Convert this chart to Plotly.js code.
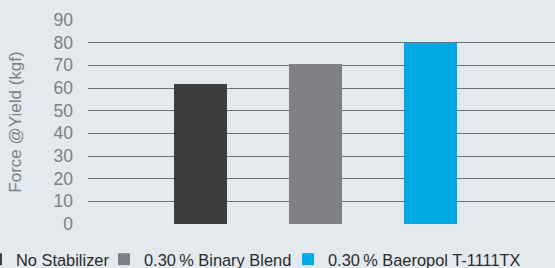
<!DOCTYPE html>
<html>
<head>
<meta charset="utf-8">
<script src="https://cdn.plot.ly/plotly-3.0.1.min.js"></script>
<style>
html,body{margin:0;padding:0;background:#e4e9ed;overflow:hidden;width:555px;height:268px;position:relative;}
#chart{width:579px;height:268px;position:absolute;left:-24px;top:0;}
</style>
</head>
<body>
<div id="chart"></div>
<script>
var categories = ["No Stabilizer", "0.30\u2009% Binary Blend", "0.30\u2009% Baeropol T-1111TX"];
var forceValues = [61.8, 70.6, 79.7];
var barColors = ["#3d3d3d", "#808184", "#00aae7"];
var yTicks = [0, 10, 20, 30, 40, 50, 60, 70, 80, 90];
var yAxisTitle = "Force @Yield (kgf)";

var legendNames = ["legend", "legend2", "legend3"];
var traces = categories.map(function (c, i) {
  return {
    type: "bar",
    x: [c],
    y: [forceValues[i]],
    name: c,
    marker: {color: barColors[i]},
    width: 0.461,
    legend: legendNames[i],
    hoverinfo: "none"
  };
});

var W = 579, H = 268;
var legendX = [0, 128, 312];
var legendFont = {family: "Liberation Sans, Arial, sans-serif", size: 16.4, color: "#2b2b2b"};
function mkLegend(px) {
  return {
    orientation: "h",
    xref: "container", yref: "container",
    x: px / W, y: 26 / H,
    xanchor: "left", yanchor: "top",
    bgcolor: "rgba(0,0,0,0)",
    font: legendFont,
    borderwidth: 0
  };
}

var layout = {
  width: W, height: H,
  paper_bgcolor: "#e4e9ed",
  plot_bgcolor: "#e4e9ed",
  margin: {l: 112, r: 0, t: 20, b: 44, pad: 0, autoexpand: false},
  bargap: 0,
  showlegend: true,
  legend: mkLegend(legendX[0]),
  legend2: mkLegend(legendX[1]),
  legend3: mkLegend(legendX[2]),
  xaxis: {
    type: "category",
    categoryorder: "array",
    categoryarray: categories,
    range: [-0.981, 3.08],
    showgrid: false, zeroline: false, showline: false,
    showticklabels: false, ticks: "", fixedrange: true
  },
  yaxis: {
    range: [0, 90],
    tickvals: yTicks,
    showgrid: true, gridcolor: "#6e757a", gridwidth: 1,
    zeroline: false, showline: false, ticks: "",
    ticklabelstandoff: 14,
    tickfont: {family: "Liberation Sans, Arial, sans-serif", size: 17.5, color: "#7b8085"},
    title: {
      text: yAxisTitle,
      font: {family: "Liberation Sans, Arial, sans-serif", size: 17, color: "#7b8085"},
      standoff: 27
    },
    automargin: false,
    fixedrange: true
  }
};

Plotly.newPlot("chart", traces, layout, {displayModeBar: false, staticPlot: true});
</script>
</body>
</html>
